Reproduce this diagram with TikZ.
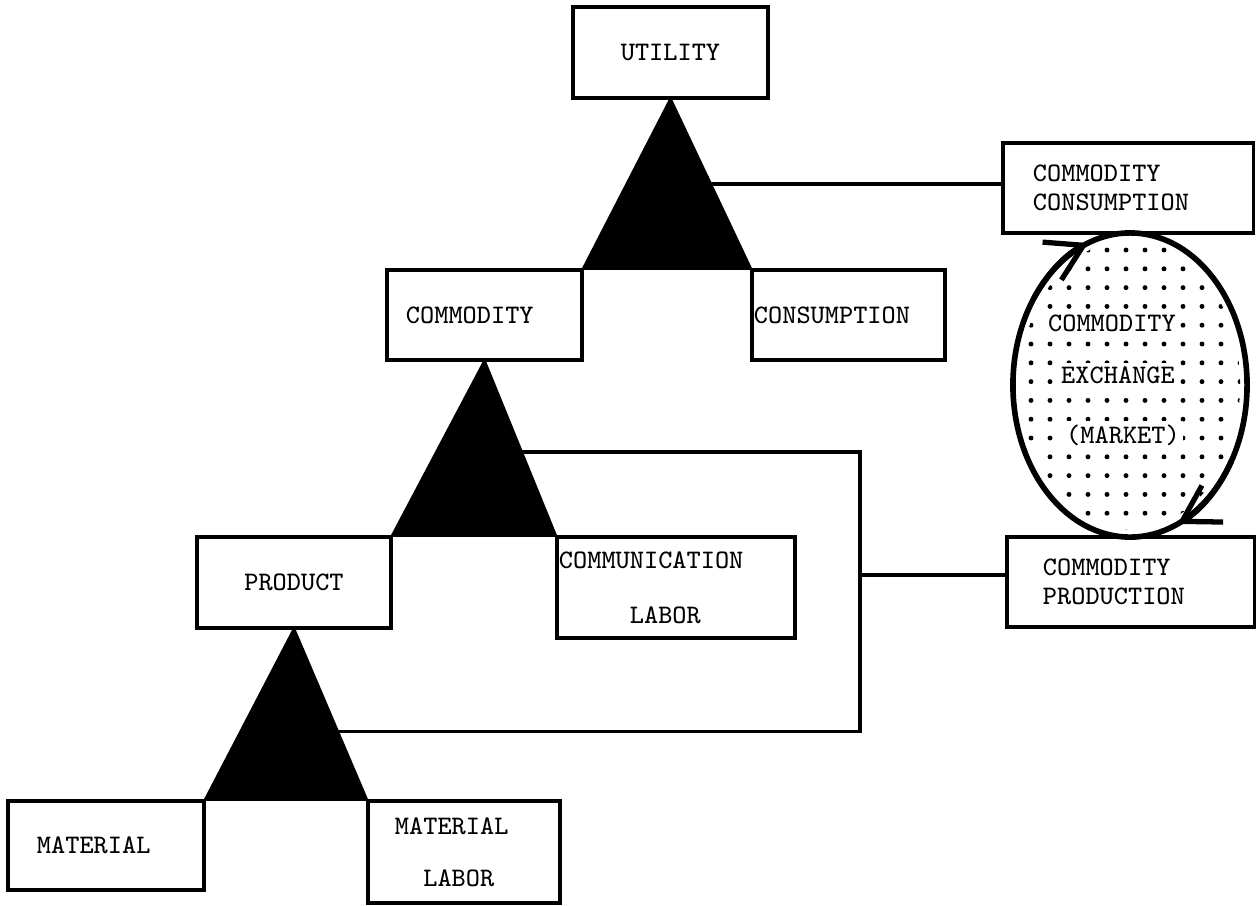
\documentclass[tikz,border=0pt]{standalone}
\usepackage{fontspec}
\usetikzlibrary{calc,arrows.meta}

\newcommand{\ttlab}{\ttfamily\fontsize{7.6}{8.4}\selectfont\addfontfeature{FakeBold=1.2}}

\tikzset{
  box/.style={draw, line width=0.9pt, inner sep=0pt, font=\ttlab},
  tri/.style={fill=black, draw=black, line width=0.9pt, line join=round},
  wire/.style={line width=0.9pt},
  ring/.style={line width=1.6pt},
  flow/.style={line width=1.6pt, -{Straight Barb[length=10pt,width=12pt,line width=1.5pt]}},
  lbl/.style={font=\ttlab, fill=white, inner sep=1pt}
}

\begin{document}
\begin{tikzpicture}[x=0.01cm, y=-0.01cm]
  \useasboundingbox (0,0) rectangle (1257,905);

  \node[box, minimum width=1.95cm, minimum height=0.91cm] (utility) at (670.5,52.5) {UTILITY};
  \node[box, minimum width=1.95cm, minimum height=0.90cm, text width=1.57cm, align=left] (commodity) at (484.5,315) {COMMODITY};
  \node[box, minimum width=1.93cm, minimum height=0.90cm, text width=1.89cm, align=left] (consumption) at (848.5,315) {CONSUMPTION};
  \node[box, minimum width=1.94cm, minimum height=0.91cm] (product) at (294,582.5) {PRODUCT};
  \node[box, minimum width=2.38cm, minimum height=1.01cm, text width=2.34cm, align=left] (commlabor) at (676,587.5) {COMMUNICATION\\[7.2pt]\hphantom{COMMU}LABOR};
  \node[box, minimum width=1.96cm, minimum height=0.89cm, text width=1.38cm, align=left] (material) at (106,845.5) {MATERIAL};
  \node[box, minimum width=1.92cm, minimum height=1.02cm, text width=1.38cm, align=left] (matlabor) at (464,852) {MATERIAL\\[6.3pt]\hphantom{MA}LABOR};
  \node[box, minimum width=2.50cm, minimum height=0.90cm, text width=1.90cm, align=left] (comcons) at (1128,188) {COMMODITY\\CONSUMPTION};
  \node[box, minimum width=2.47cm, minimum height=0.90cm, text width=1.75cm, align=left] (comprod) at (1130.5,582) {COMMODITY\\PRODUCTION};

  \filldraw[tri] (utility.south) -- (commodity.north east) -- (consumption.north west) -- cycle;
  \filldraw[tri] (commodity.south) -- (product.north east) -- (commlabor.north west) -- cycle;
  \filldraw[tri] (product.south) -- (material.north east) -- (matlabor.north west) -- cycle;

  \coordinate (t1) at ($(utility.south)!0.5!(consumption.north west)$);
  \coordinate (t2) at ($(commodity.south)!0.52!(commlabor.north west)$);
  \coordinate (t3) at ($(product.south)!0.6!(matlabor.north west)$);
  \coordinate (bus) at (860,575);
  \draw[wire] (t1) -- (t1 -| comcons.west);
  \draw[wire] (t2) -| (bus) |- (t3);
  \draw[wire] (bus) -- (bus -| comprod.west);

  \coordinate (exch) at (1130,385);
  \begin{scope}
    \clip (exch) ellipse [x radius=1.1cm, y radius=1.45cm];
    \foreach \i in {0,...,12}
      \foreach \j in {0,...,16}
        \fill (1012+19*\i, 231.2+18.8*\j) circle (0.7pt);
  \end{scope}
  \draw[ring] (exch) ellipse [x radius=1.17cm, y radius=1.52cm];
  \draw[flow] ($(exch)+(145:1.17cm and 1.52cm)$) arc [start angle=145, end angle=111, x radius=1.17cm, y radius=1.52cm];
  \draw[flow] ($(exch)+(-30:1.17cm and 1.52cm)$) arc [start angle=-30, end angle=-66, x radius=1.17cm, y radius=1.52cm];

  \node[lbl] (exa) at (1112,323) {COMMODITY};
  \node[lbl] (exb) at (1118,375) {EXCHANGE};
  \node[lbl] (exc) at (1123,435) {(MARKET)};
\end{tikzpicture}
\end{document}
